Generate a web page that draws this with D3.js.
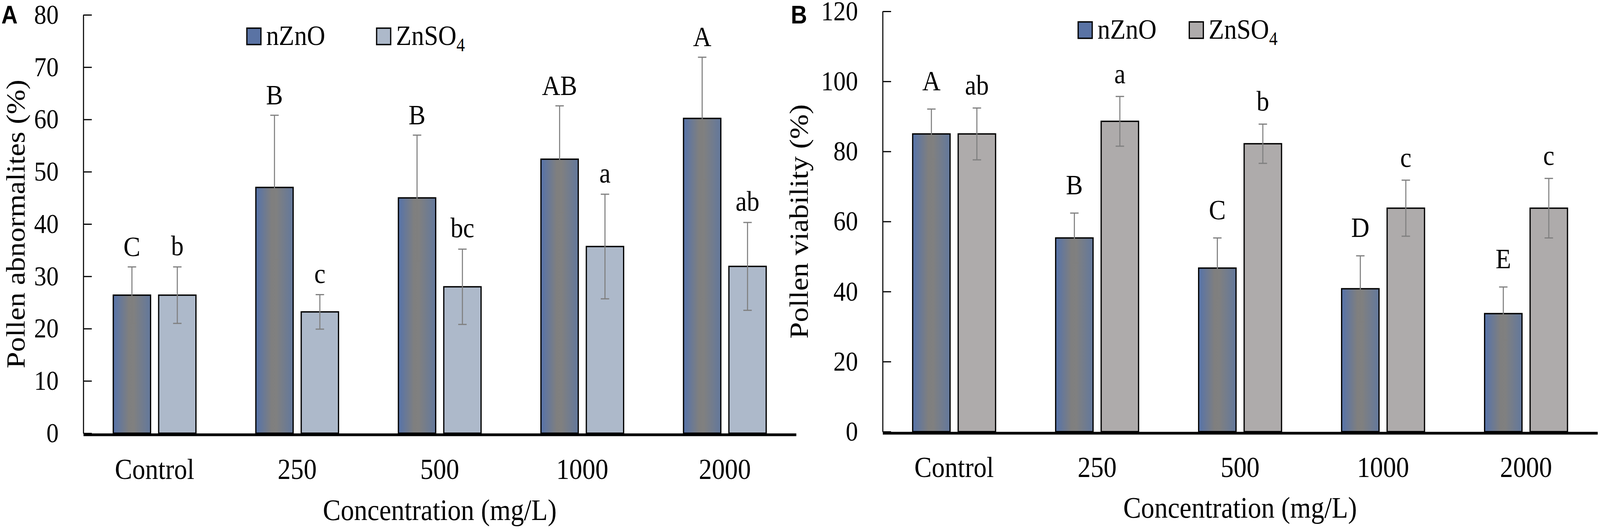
<!DOCTYPE html>
<html>
<head>
<meta charset="utf-8">
<script src="https://cdn.jsdelivr.net/npm/d3@7"></script>
<style>
  html, body { margin: 0; padding: 0; background: #fff; overflow: hidden; }
  #chart { display: block; width: 100vw; height: 100vh; }
  text { font-family: "Liberation Serif", "Times New Roman", serif; fill: #000; }
  text.tag { font-family: "Liberation Sans", Arial, sans-serif; font-weight: bold; }
</style>
</head>
<body>
<svg id="chart" viewBox="0 0 4550 1353" preserveAspectRatio="none"></svg>
<script>
// categories and series
var categories = ["Control", "250", "500", "1000", "2000"];
var series = ["nZnO", "ZnSO4"];

// panel A - pollen abnormalities (%)
var abnNano = [26.4, 47.0, 45.0, 52.4, 60.2];
var abnNanoSd = [5.4, 13.8, 12.0, 10.2, 11.7];
var abnSulf = [26.4, 23.2, 28.0, 35.7, 31.9];
var abnSulfSd = [5.4, 3.3, 7.2, 10.0, 8.4];
var abnNanoLetters = ["C", "B", "B", "AB", "A"];
var abnSulfLetters = ["b", "c", "bc", "a", "ab"];
var abnTicks = [0, 10, 20, 30, 40, 50, 60, 70, 80];

// panel B - pollen viability (%)
var viaNano = [85.0, 55.3, 46.7, 40.8, 33.7];
var viaNanoSd = [7.1, 7.1, 8.6, 9.4, 7.6];
var viaSulf = [85.0, 88.6, 82.2, 63.8, 63.8];
var viaSulfSd = [7.4, 7.1, 5.6, 8.0, 8.5];
var viaNanoLetters = ["A", "B", "C", "D", "E"];
var viaSulfLetters = ["ab", "a", "b", "c", "c"];
var viaTicks = [0, 20, 40, 60, 80, 100, 120];

var svg = d3.select("#chart");

// gradient used for the nZnO bars (blue edges, grey middle)
var grad = svg.append("defs").append("linearGradient")
    .attr("id", "nanoGrad")
    .attr("x1", 0).attr("x2", 1).attr("y1", 0).attr("y2", 0);
grad.append("stop").attr("offset", "0%").attr("stop-color", "#5673aa");
grad.append("stop").attr("offset", "42%").attr("stop-color", "#7f7f7f");
grad.append("stop").attr("offset", "55%").attr("stop-color", "#808080");
grad.append("stop").attr("offset", "100%").attr("stop-color", "#63789c");

function drawPanel(p) {
    var g = svg.append("g");

    var y = d3.scaleLinear()
        .domain([0, d3.max(p.ticks)])
        .range([p.bottom, p.top]);

    var x0 = d3.scaleBand()
        .domain(categories)
        .range([p.left, p.right])
        .padding(0);

    var x1 = d3.scaleBand()
        .domain(series)
        .range([0, x0.bandwidth()])
        .paddingInner(0.178)
        .paddingOuter(0.66);

    var rows = categories.map(function (c, i) {
        return [
            {cat: c, s: "nZnO", k: 0, v: p.nano[i], sd: p.nanoSd[i], lab: p.nanoLetters[i]},
            {cat: c, s: "ZnSO4", k: 1, v: p.sulf[i], sd: p.sulfSd[i], lab: p.sulfLetters[i]}
        ];
    });
    var flat = [].concat.apply([], rows);

    // y axis, ticks pointing inward
    var yAxis = g.append("g")
        .attr("transform", "translate(" + p.left + ",0)")
        .call(d3.axisLeft(y).tickValues(p.ticks).tickSize(-24).tickSizeOuter(0).tickPadding(70));
    yAxis.select(".domain").attr("stroke", "#000").attr("stroke-width", 3);
    yAxis.selectAll(".tick line").attr("stroke", "#000").attr("stroke-width", 3);
    yAxis.selectAll("text")
        .attr("font-size", 70)
        .attr("fill", "#000");

    // bars
    g.selectAll("rect.bar")
        .data(flat)
        .enter()
        .append("rect")
        .attr("class", "bar")
        .attr("x", function (d) { return x0(d.cat) + x1(d.s); })
        .attr("y", function (d) { return y(d.v); })
        .attr("width", x1.bandwidth())
        .attr("height", function (d) { return y(0) - y(d.v); })
        .attr("fill", function (d) { return d.s === "nZnO" ? "url(#nanoGrad)" : p.sulfColor; })
        .attr("stroke", "#000")
        .attr("stroke-width", 3.5);

    // x axis (thick baseline)
    var xAxis = g.append("g")
        .attr("transform", "translate(0," + (p.bottom + 3.5) + ")")
        .call(d3.axisBottom(x0).tickSize(0).tickSizeOuter(0));
    xAxis.select(".domain").attr("stroke", "#000").attr("stroke-width", 7);
    xAxis.selectAll("text")
        .attr("dy", null)
        .attr("y", p.catY - p.bottom - 3.5)
        .attr("font-size", 74)
        .attr("fill", "#000");

    // error bars
    var eb = g.selectAll("g.err")
        .data(flat)
        .enter()
        .append("g")
        .attr("class", "err")
        .attr("stroke", "#7f7f7f")
        .attr("stroke-width", 3);
    function cx(d) { return x0(d.cat) + x1(d.s) + x1.bandwidth() / 2; }
    eb.append("line")
        .attr("x1", cx).attr("x2", cx)
        .attr("y1", function (d) { return y(d.v - d.sd); })
        .attr("y2", function (d) { return y(d.v + d.sd); });
    eb.append("line")
        .attr("x1", function (d) { return cx(d) - 12; })
        .attr("x2", function (d) { return cx(d) + 12; })
        .attr("y1", function (d) { return y(d.v + d.sd); })
        .attr("y2", function (d) { return y(d.v + d.sd); });
    eb.append("line")
        .attr("x1", function (d) { return cx(d) - 12; })
        .attr("x2", function (d) { return cx(d) + 12; })
        .attr("y1", function (d) { return y(d.v - d.sd); })
        .attr("y2", function (d) { return y(d.v - d.sd); });

    // significance letters
    g.selectAll("text.sig")
        .data(flat)
        .enter()
        .append("text")
        .attr("class", "sig")
        .attr("x", cx)
        .attr("y", function (d) { return y(d.v + d.sd) - p.letterGap[d.k]; })
        .attr("text-anchor", "middle")
        .attr("font-size", 72)
        .text(function (d) { return d.lab; });

    // legend
    var leg = g.selectAll("g.leg")
        .data(series)
        .enter()
        .append("g")
        .attr("class", "leg")
        .attr("transform", function (d, i) { return "translate(" + p.legX[i] + "," + p.legY + ")"; });
    leg.append("rect")
        .attr("width", 40).attr("height", 42)
        .attr("fill", function (d) { return d === "nZnO" ? "#5a73a4" : p.sulfColor; })
        .attr("stroke", "#000")
        .attr("stroke-width", 3.5);
    var lt = leg.append("text")
        .attr("x", 55)
        .attr("y", 43)
        .attr("font-size", 72);
    lt.each(function (d) {
        var t = d3.select(this);
        if (d === "ZnSO4") {
            t.append("tspan").text("ZnSO");
            t.append("tspan").attr("font-size", 48).attr("dy", 16).text("4");
        } else {
            t.text(d);
        }
    });

    // titles
    g.append("text")
        .attr("transform", "translate(" + p.yTitleX + "," + ((p.top + p.bottom) / 2) + ") rotate(-90)")
        .attr("text-anchor", "middle")
        .attr("font-size", 76)
        .text(p.yTitle);
    g.append("text")
        .attr("x", (p.left + p.right) / 2)
        .attr("y", p.xTitleY)
        .attr("text-anchor", "middle")
        .attr("font-size", 76)
        .text("Concentration (mg/L)");

    // panel letter
    g.append("text")
        .attr("class", "tag")
        .attr("x", p.tagX)
        .attr("y", 60)
        .attr("font-size", 64)
        .text(p.tag);
}

drawPanel({
    left: 237, right: 2264, top: 38, bottom: 1108,
    ticks: abnTicks,
    nano: abnNano, nanoSd: abnNanoSd, sulf: abnSulf, sulfSd: abnSulfSd,
    nanoLetters: abnNanoLetters, sulfLetters: abnSulfLetters,
    sulfColor: "#adb9ca",
    letterGap: [28, 30],
    catY: 1225,
    legX: [702, 1071], legY: 72,
    yTitle: "Pollen abnormalites (%)", yTitleX: 70,
    xTitleY: 1330,
    tag: "A", tagX: 4
});

drawPanel({
    left: 2510, right: 4543, top: 29, bottom: 1104,
    ticks: viaTicks,
    nano: viaNano, nanoSd: viaNanoSd, sulf: viaSulf, sulfSd: viaSulfSd,
    nanoLetters: viaNanoLetters, sulfLetters: viaSulfLetters,
    sulfColor: "#aeabab",
    letterGap: [48, 34],
    catY: 1220,
    legX: [3066, 3382], legY: 56,
    yTitle: "Pollen viability (%)", yTitleX: 2297,
    xTitleY: 1324,
    tag: "B", tagX: 2249
});
</script>
</body>
</html>
